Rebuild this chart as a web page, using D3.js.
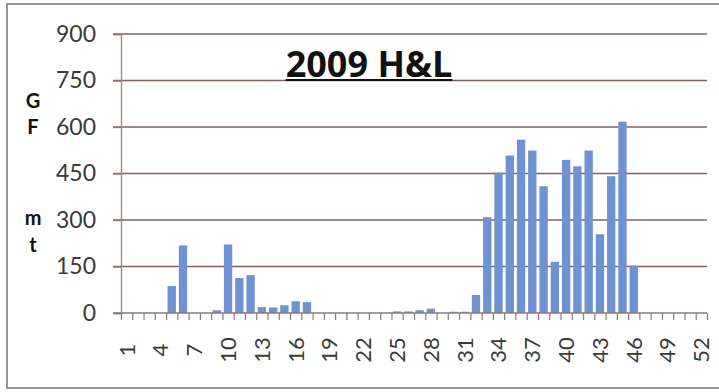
<!DOCTYPE html>
<html>
<head>
<meta charset="utf-8">
<script src="https://cdn.jsdelivr.net/npm/d3@7"></script>
<style>
  html, body { margin: 0; padding: 0; background: #ffffff; }
  svg { display: block; }
</style>
</head>
<body>
<svg id="chart" width="719" height="392"></svg>
<script>
// Weekly catch, 2009 H&L
const weeks = d3.range(1, 53);
const catchMt = [
  0, 0, 0, 0, 87, 218, 0, 0, 9, 221,
  113, 122, 19, 18, 25, 38, 35, 0, 0, 0,
  0, 0, 0, 0, 5, 5, 9, 14, 0, 4,
  4, 58, 309, 453, 508, 559, 524, 409, 165, 494,
  473, 524, 254, 441, 617, 153, 0, 0, 0, 0,
  0, 0
];
const yTicks = [0, 150, 300, 450, 600, 750, 900];
const xTickLabels = weeks.filter(w => (w - 1) % 3 === 0);
const titleText = "2009 H&L";
const yLabelLetters = ["G", "F", "m", "t"];

const svg = d3.select("#chart");
const plotLeft = 121, plotRight = 707, plotTop = 34, plotBottom = 313;
const font = "Lato, 'Open Sans', sans-serif";

// outer frame
svg.append("rect")
  .attr("x", 7).attr("y", 4).attr("width", 730).attr("height", 384)
  .attr("fill", "#ffffff").attr("stroke", "#9a9498").attr("stroke-width", 2);

const x = d3.scaleBand().domain(weeks).range([plotLeft, plotRight])
  .paddingInner(0.26).paddingOuter(0.13);
const xEdge = d3.scaleLinear().domain([0, 52]).range([plotLeft, plotRight]);
const y = d3.scaleLinear().domain([0, 900]).range([plotBottom, plotTop]);

// horizontal gridlines
svg.append("g").selectAll("line").data(yTicks.slice(1)).join("line")
  .attr("x1", 113).attr("x2", plotRight)
  .attr("y1", d => y(d)).attr("y2", d => y(d))
  .attr("stroke", "#86605f").attr("stroke-width", 1.4);

// bars
svg.append("g").selectAll("rect").data(weeks).join("rect")
  .attr("x", w => x(w))
  .attr("width", x.bandwidth())
  .attr("y", (w, i) => y(catchMt[i]))
  .attr("height", (w, i) => plotBottom - y(catchMt[i]))
  .attr("fill", "#6e92d2");

// y axis
const yAxis = svg.append("g").attr("transform", `translate(${plotLeft},0)`)
  .call(d3.axisLeft(y).tickValues(yTicks).tickSize(8).tickPadding(17));
yAxis.select(".domain").attr("stroke", "#a8887c").attr("stroke-width", 1.4);
yAxis.selectAll(".tick line").attr("stroke", "#8a7a7a").attr("stroke-width", 1.4);
yAxis.selectAll(".tick text")
  .attr("font-family", font).attr("font-size", 23).attr("fill", "#3a3a3a");

// x axis tick marks at week boundaries
const xTicks = svg.append("g").attr("transform", `translate(0,${plotBottom})`)
  .call(d3.axisBottom(xEdge).tickValues(d3.range(0, 53)).tickSize(7).tickFormat(""));
xTicks.select(".domain").remove();
xTicks.selectAll(".tick line").attr("stroke", "#8a7a7a").attr("stroke-width", 1.2);
svg.append("line")
  .attr("x1", 113).attr("x2", plotRight).attr("y1", plotBottom).attr("y2", plotBottom)
  .attr("stroke", "#8a7a7a").attr("stroke-width", 1.6);

// rotated week labels
const xLab = svg.append("g").attr("transform", `translate(0,${plotBottom})`)
  .call(d3.axisBottom(x).tickValues(xTickLabels).tickSize(0));
xLab.select(".domain").remove();
xLab.selectAll(".tick text")
  .attr("transform", "rotate(-90)")
  .attr("x", -37).attr("y", 0).attr("dy", "0.36em")
  .attr("text-anchor", "middle")
  .attr("font-family", font).attr("font-size", 22).attr("fill", "#3a3a3a");

// title
const title = svg.append("text")
  .attr("x", 369).attr("y", 77)
  .attr("text-anchor", "middle")
  .attr("font-family", "'Open Sans', Lato, sans-serif")
  .attr("font-weight", "bold").attr("font-size", 36)
  .attr("fill", "#111111")
  .text(titleText);
const tb = title.node().getBBox();
svg.append("line")
  .attr("x1", tb.x).attr("x2", tb.x + tb.width)
  .attr("y1", 80).attr("y2", 80)
  .attr("stroke", "#111111").attr("stroke-width", 2.2);

// stacked axis title letters
const letterY = [101, 127, 218, 245];
svg.append("g").selectAll("text").data(yLabelLetters).join("text")
  .attr("x", 33).attr("y", (d, i) => letterY[i])
  .attr("dy", "0.36em")
  .attr("text-anchor", "middle")
  .attr("font-family", font).attr("font-weight", "bold").attr("font-size", 20)
  .attr("fill", "#111111")
  .text(d => d);
</script>
</body>
</html>
